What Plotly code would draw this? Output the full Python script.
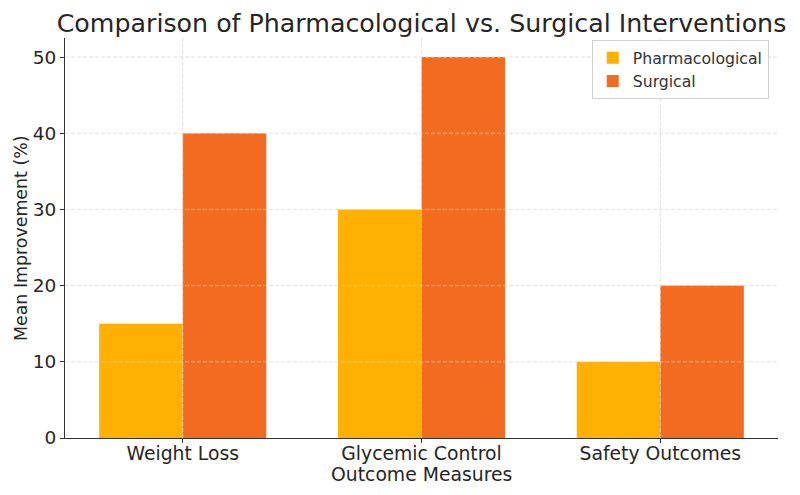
import plotly.graph_objects as go

categories = ["Weight Loss", "Glycemic Control", "Safety Outcomes"]
pharmacological = [15, 30, 10]
surgical = [40, 50, 20]
y_ticks = [0, 10, 20, 30, 40, 50]

pos = list(range(len(categories)))
w = 0.35

fig = go.Figure()
fig.add_trace(go.Bar(x=pos, y=pharmacological, name="Pharmacological",
                     marker=dict(color="#FFB000", line=dict(width=0)),
                     width=w, offset=-w))
fig.add_trace(go.Bar(x=pos, y=surgical, name="Surgical",
                     marker=dict(color="#F26B21", line=dict(width=0)),
                     width=w, offset=0))

# dashed grid drawn above bars (as in reference)
grid_style = dict(color="rgba(215,215,215,0.75)", width=1, dash="4px,2px")
for t in y_ticks[1:]:
    fig.add_shape(type="line", xref="paper", yref="y", x0=0, x1=1, y0=t, y1=t,
                  line=grid_style, layer="above")
for p in pos:
    fig.add_shape(type="line", xref="x", yref="paper", x0=p, x1=p, y0=0, y1=1,
                  line=grid_style, layer="above")

font_family = "DejaVu Sans"
txt = "#262626"

# axis titles as annotations for precise placement
fig.add_annotation(text="Outcome Measures", xref="paper", yref="paper", x=0.5, y=0,
                   xanchor="center", yanchor="middle", yshift=-36, showarrow=False,
                   font=dict(size=18.8, color=txt))
fig.add_annotation(text="Mean Improvement (%)", xref="paper", yref="paper", x=0, y=0.5,
                   xanchor="center", yanchor="middle", xshift=-44, textangle=-90, showarrow=False,
                   font=dict(size=17.4, color=txt))

fig.update_layout(
    width=792, height=487,
    margin=dict(l=57, r=22, t=30, b=57, autoexpand=False),
    paper_bgcolor="white", plot_bgcolor="white",
    font=dict(family=font_family, color=txt),
    title=dict(text="Comparison of Pharmacological vs. Surgical Interventions",
               x=0.5, xref="paper", xanchor="center", y=0.968, yanchor="middle",
               font=dict(size=25.3, color=txt)),
    showlegend=True,
    legend=dict(x=0.987, y=0.995, xanchor="right", yanchor="top",
                bgcolor="rgba(255,255,255,0.8)", bordercolor="#d0d0d0", borderwidth=1,
                tracegroupgap=0, itemwidth=30,
                font=dict(size=15.7, color="#333333")),
    xaxis=dict(range=[-0.493, 2.493], tickmode="array", tickvals=pos, ticktext=categories,
               showgrid=False, zeroline=False, showline=True, linecolor="#333333", linewidth=1.2,
               ticks="outside", ticklen=4, tickcolor="#333333", automargin=False,
               ticklabelstandoff=-6,
               tickfont=dict(size=18.8, color=txt)),
    yaxis=dict(range=[0, 52.5], tickmode="array", tickvals=y_ticks,
               showgrid=False, zeroline=False, showline=True, linecolor="#333333", linewidth=1.2,
               ticks="outside", ticklen=4, tickcolor="#333333", automargin=False,
               tickfont=dict(size=18.5, color=txt)),
)

fig.write_html("out.html")
